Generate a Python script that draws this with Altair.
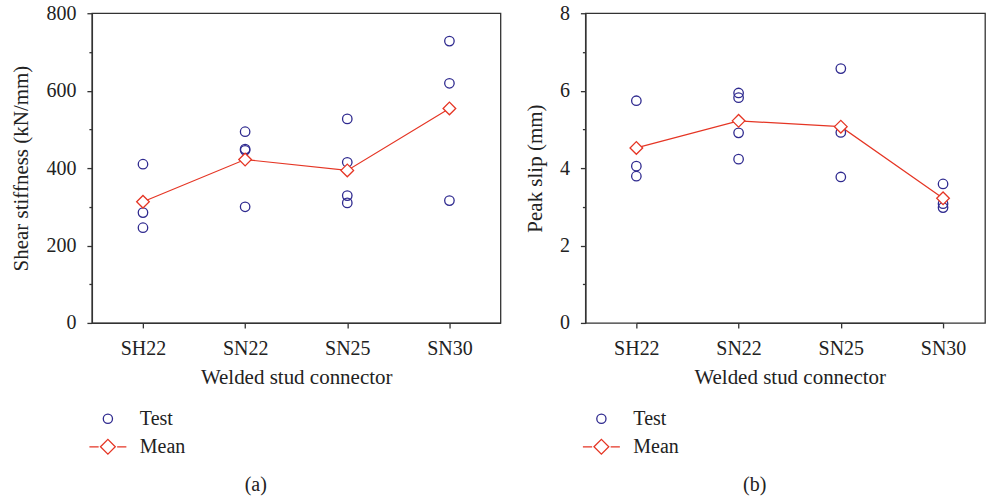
import altair as alt
import pandas as pd

# ---------------- data ----------------
categories = ["SH22", "SN22", "SN25", "SN30"]
series = ["Test", "Mean"]

stiff_test_cat = ["SH22", "SH22", "SH22",
                  "SN22", "SN22", "SN22", "SN22",
                  "SN25", "SN25", "SN25", "SN25",
                  "SN30", "SN30", "SN30"]
stiff_test_val = [410, 285, 246,
                  494, 449, 446, 300,
                  527, 415, 329, 310,
                  728, 619, 316]
stiff_mean = [313, 422, 394, 554]

slip_test_cat = ["SH22", "SH22", "SH22",
                 "SN22", "SN22", "SN22", "SN22",
                 "SN25", "SN25", "SN25",
                 "SN30", "SN30", "SN30"]
slip_test_val = [5.74, 4.05, 3.79,
                 5.94, 5.82, 4.91, 4.23,
                 6.57, 4.92, 3.77,
                 3.59, 3.08, 2.98]
slip_mean = [4.52, 5.22, 5.07, 3.22]

# ---------------- style ----------------
FONT = "Liberation Serif"
BLUE = "#2f2a8f"
RED = "#e53524"
INK = "#333333"

MEAN_PATH = "M-1,0L-0.5,0M-0.4,0L0,-0.4L0.4,0L0,0.4ZM0.5,0L1,0"


def panel(test_cat, test_val, means, ytitle, ymax, step, major, caption,
          width, xrange=None):
    test_df = pd.DataFrame({"connector": test_cat, "value": test_val,
                            "series": ["Test"] * len(test_val)})
    mean_df = pd.DataFrame({"connector": categories, "value": means,
                            "series": ["Mean"] * len(means)})

    yvals = [round(i * step, 6) for i in range(int(round(ymax / step)) + 1)]

    if xrange is None:
        xscale = alt.Scale(domain=categories, padding=0.5)
    else:
        xscale = alt.Scale(domain=categories, padding=0, range=xrange)

    xenc = alt.X(
        "connector:N",
        sort=categories,
        scale=xscale,
        axis=alt.Axis(title="Welded stud connector", labelAngle=0,
                      tickSize=5, labelPadding=11, titlePadding=8),
    )
    yenc = alt.Y(
        "value:Q",
        scale=alt.Scale(domain=[0, ymax], nice=False, zero=True),
        axis=alt.Axis(
            title=ytitle,
            values=yvals,
            grid=False,
            labelExpr=f"abs(datum.value % {major}) < 1e-6 ? datum.label : ''",
            tickSize={"condition": {"test": f"abs(datum.value % {major}) > 1e-6",
                                    "value": 3},
                      "value": 5},
            labelPadding=11,
            titlePadding=14,
        ),
    )
    stroke = alt.Stroke(
        "series:N",
        scale=alt.Scale(domain=series, range=[BLUE, RED]),
        legend=alt.Legend(
            title=None,
            orient="none",
            legendX=6,
            legendY=396,
            symbolType=alt.ExprRef(
                f"datum.value == 'Mean' ? '{MEAN_PATH}' : 'circle'"),
            symbolSize=alt.ExprRef("datum.value == 'Mean' ? 1369 : 85"),
            symbolStrokeWidth=1.3,
            symbolFillColor="white",
            labelOffset=22,
            rowPadding=8,
            labelFont=FONT,
            labelFontSize=20,
            labelColor="#222222",
        ),
    )

    line = alt.Chart(mean_df).mark_line(color=RED, strokeWidth=1.2).encode(
        x=xenc, y=yenc)
    tests = alt.Chart(test_df).mark_point(
        shape="circle", size=90, filled=False, strokeWidth=1.3, opacity=1
    ).encode(x=xenc, y=yenc, stroke=stroke)
    mean_pts = alt.Chart(mean_df).mark_point(
        shape="diamond", size=160, filled=True, fill="white", strokeWidth=1.3,
        opacity=1
    ).encode(x=xenc, y=yenc, stroke=stroke)

    return alt.layer(line, tests, mean_pts).properties(
        width=width,
        height=310,
        title=alt.TitleParams(caption, orient="bottom", anchor="middle",
                              frame="bounds", font=FONT, fontSize=20,
                              fontWeight="normal", color="#222222", offset=18),
    )


left = panel(stiff_test_cat, stiff_test_val, stiff_mean,
             "Shear stiffness (kN/mm)", 800, 100, 200, "(a)", 409)
right = panel(slip_test_cat, slip_test_val, slip_mean,
              "Peak slip (mm)", 8, 1, 2, "(b)", 400, xrange=[51, 358])

chart = alt.hconcat(left, right, spacing=22).resolve_scale(
    stroke="independent"
).properties(
    padding={"left": 10, "top": 2, "right": 0, "bottom": 0},
    background="white",
).configure_view(
    stroke=INK, strokeWidth=1.3
).configure_axis(
    labelFont=FONT, titleFont=FONT, labelFontSize=20, titleFontSize=21,
    titleFontWeight="normal", labelColor="#222222", titleColor="#222222",
    domainColor=INK, tickColor=INK, domainWidth=1.3, tickWidth=1.3,
)

chart.save("out.html", embed_options={"renderer": "svg", "actions": False})
